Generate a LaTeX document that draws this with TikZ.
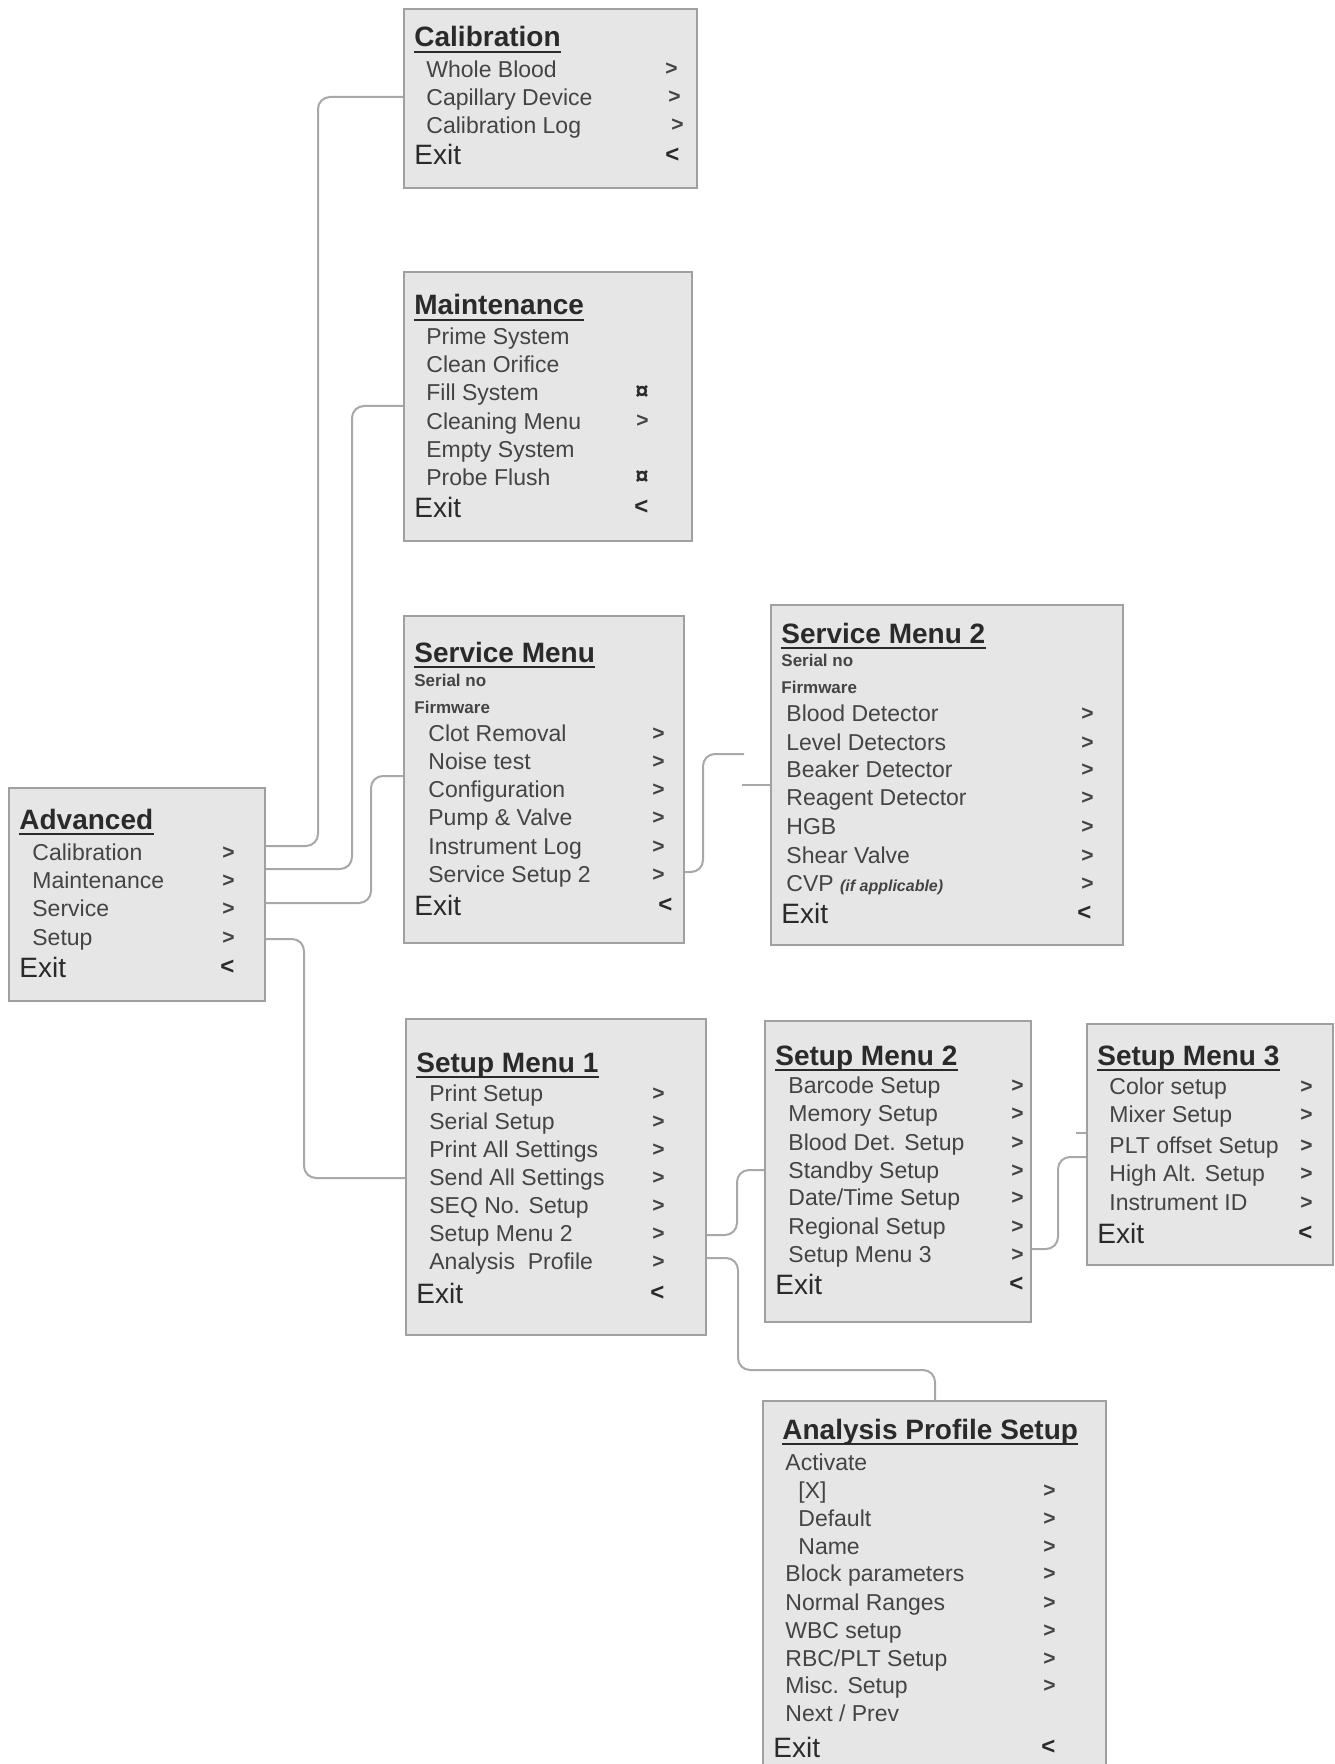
\documentclass[tikz,border=0pt]{standalone}
\usepackage{fontspec}
\setmainfont{Liberation Sans}
\usetikzlibrary{fit}
\definecolor{boxfill}{HTML}{E6E6E6}
\definecolor{boxline}{HTML}{A0A0A0}
\definecolor{connline}{HTML}{A8A8A8}
\definecolor{itemtext}{HTML}{444444}
\definecolor{titletext}{HTML}{2A2A2A}
\newcommand\titleline[1]{\draw[draw=titletext, line width=1.2pt] ([yshift=-2.6pt]#1.base west) -- ([yshift=-2.6pt]#1.base east);}
\begin{document}
\begin{tikzpicture}[x=0.5pt,y=-0.5pt,
  box/.style={draw=boxline, fill=boxfill, line width=1.1pt, inner sep=0pt},
  txt/.style={inner sep=0pt, anchor=west, text depth=0pt},
  item/.style={txt, text height=8.2pt, font=\fontsize{11.5}{12}\selectfont, text=itemtext},
  ttl/.style={txt, text height=10pt, font=\fontsize{14}{15}\selectfont\bfseries, text=titletext},
  exitt/.style={txt, text height=10pt, font=\fontsize{14}{15}\selectfont, text=titletext},
  smallt/.style={txt, text height=6.1pt, font=\fontsize{8.5}{9}\selectfont\bfseries, text=itemtext},
  arr/.style={txt, text height=7pt, font=\fontsize{10.5}{11}\selectfont\bfseries, text=itemtext},
  arrx/.style={txt, text height=7.5pt, font=\fontsize{12}{13}\selectfont\bfseries, text=titletext},
  conn/.style={draw=connline, line width=1pt, rounded corners=6pt},
]
\clip (0,0) rectangle (1334,1764);
\fill[white] (0,0) rectangle (1334,1764);

% ---------------- boxes
\coordinate (cal-nw) at (404,9);    \coordinate (cal-se) at (697,188);
\coordinate (mnt-nw) at (404,272);  \coordinate (mnt-se) at (692,541);
\coordinate (srv-nw) at (404,616);  \coordinate (srv-se) at (684,943);
\coordinate (sv2-nw) at (771,605);  \coordinate (sv2-se) at (1123,945);
\coordinate (adv-nw) at (9,788);    \coordinate (adv-se) at (265,1001);
\coordinate (su1-nw) at (406,1019); \coordinate (su1-se) at (706,1335);
\coordinate (su2-nw) at (765,1021); \coordinate (su2-se) at (1031,1322);
\coordinate (su3-nw) at (1087,1024);\coordinate (su3-se) at (1333,1265);
\coordinate (aps-nw) at (763,1401); \coordinate (aps-se) at (1106,1790);
\foreach \b in {cal,mnt,srv,sv2,adv,su1,su2,su3,aps}{
  \node[box, fit=(\b-nw)(\b-se)] (\b) {};
}

% ---------------- Calibration
\node[ttl] (cal-t) at (414,37) {Calibration}; \titleline{cal-t}
\node[item] (cal-1) at (426,69) {Whole Blood};      \node[arr] (cal-a1) at (665,69) {>};
\node[item] (cal-2) at (426,97) {Capillary Device}; \node[arr] (cal-a2) at (668,97) {>};
\node[item] (cal-3) at (426,125) {Calibration Log}; \node[arr] (cal-a3) at (671,125) {>};
\node[exitt] (cal-e) at (414,155) {Exit};           \node[arrx] (cal-ae) at (665,155) {<};

% ---------------- Maintenance
\node[ttl] (mnt-t) at (414,305) {Maintenance}; \titleline{mnt-t}
\node[item] (mnt-1) at (426,336) {Prime System};
\node[item] (mnt-2) at (426,364) {Clean Orifice};
\node[item] (mnt-3) at (426,392) {Fill System};   \node[arrx] (mnt-a3) at (635,392) {¤};
\node[item] (mnt-4) at (426,421) {Cleaning Menu}; \node[arr] (mnt-a4) at (636,421) {>};
\node[item] (mnt-5) at (426,449) {Empty System};
\node[item] (mnt-6) at (426,477) {Probe Flush};   \node[arrx] (mnt-a6) at (635,477) {¤};
\node[exitt] (mnt-e) at (414,507) {Exit};         \node[arrx] (mnt-ae) at (634,507) {<};

% ---------------- Service Menu
\node[ttl] (srv-t) at (414,652) {Service Menu}; \titleline{srv-t}
\node[smallt] (srv-s) at (414,680) {Serial no};
\node[smallt] (srv-f) at (414,707) {Firmware};
\node[item] (srv-1) at (428,733) {Clot Removal};    \node[arr] (srv-a1) at (652,733) {>};
\node[item] (srv-2) at (428,761) {Noise test};      \node[arr] (srv-a2) at (652,761) {>};
\node[item] (srv-3) at (428,789) {Configuration};   \node[arr] (srv-a3) at (652,789) {>};
\node[item] (srv-4) at (428,817) {Pump \& Valve};   \node[arr] (srv-a4) at (652,817) {>};
\node[item] (srv-5) at (428,846) {Instrument Log};  \node[arr] (srv-a5) at (652,846) {>};
\node[item] (srv-6) at (428,874) {Service Setup 2}; \node[arr] (srv-a6) at (652,874) {>};
\node[exitt] (srv-e) at (414,905) {Exit};           \node[arrx] (srv-ae) at (658,905) {<};

% ---------------- Service Menu 2
\node[ttl] (sv2-t) at (781,633) {Service Menu 2}; \titleline{sv2-t}
\node[smallt] (sv2-s) at (781,660) {Serial no};
\node[smallt] (sv2-f) at (781,687) {Firmware};
\node[item] (sv2-1) at (786,713) {Blood Detector};   \node[arr] (sv2-a1) at (1081,713) {>};
\node[item] (sv2-2) at (786,742) {Level Detectors};  \node[arr] (sv2-a2) at (1081,742) {>};
\node[item] (sv2-3) at (786,769) {Beaker Detector};  \node[arr] (sv2-a3) at (1081,769) {>};
\node[item] (sv2-4) at (786,797) {Reagent Detector}; \node[arr] (sv2-a4) at (1081,797) {>};
\node[item] (sv2-5) at (786,826) {HGB};              \node[arr] (sv2-a5) at (1081,826) {>};
\node[item] (sv2-6) at (786,855) {Shear Valve};      \node[arr] (sv2-a6) at (1081,855) {>};
\node[item] (sv2-7) at (786,883) {CVP {\fontsize{8}{9}\selectfont\bfseries\itshape (if applicable)}}; \node[arr] (sv2-a7) at (1081,883) {>};
\node[exitt] (sv2-e) at (781,913) {Exit};            \node[arrx] (sv2-ae) at (1077,913) {<};

% ---------------- Advanced
\node[ttl] (adv-t) at (19,819) {Advanced}; \titleline{adv-t}
\node[item] (adv-1) at (32,852) {Calibration}; \node[arr] (adv-a1) at (222,852) {>};
\node[item] (adv-2) at (32,880) {Maintenance}; \node[arr] (adv-a2) at (222,880) {>};
\node[item] (adv-3) at (32,908) {Service};     \node[arr] (adv-a3) at (222,908) {>};
\node[item] (adv-4) at (32,937) {Setup};       \node[arr] (adv-a4) at (222,937) {>};
\node[exitt] (adv-e) at (19,967) {Exit};       \node[arrx] (adv-ae) at (220,967) {<};

% ---------------- Setup Menu 1
\node[ttl] (su1-t) at (416,1062) {Setup Menu 1}; \titleline{su1-t}
\node[item] (su1-1) at (429,1093) {Print Setup};        \node[arr] (su1-a1) at (652,1093) {>};
\node[item] (su1-2) at (429,1121) {Serial Setup};       \node[arr] (su1-a2) at (652,1121) {>};
\node[item] (su1-3) at (429,1149) {Print All Settings}; \node[arr] (su1-a3) at (652,1149) {>};
\node[item] (su1-4) at (429,1177) {Send All Settings};  \node[arr] (su1-a4) at (652,1177) {>};
\node[item] (su1-5) at (429,1205) {SEQ No. Setup};      \node[arr] (su1-a5) at (652,1205) {>};
\node[item] (su1-6) at (429,1233) {Setup Menu 2};       \node[arr] (su1-a6) at (652,1233) {>};
\node[item] (su1-7) at (429,1261) {Analysis\ \ Profile};\node[arr] (su1-a7) at (652,1261) {>};
\node[exitt] (su1-e) at (416,1293) {Exit};              \node[arrx] (su1-ae) at (650,1293) {<};

% ---------------- Setup Menu 2
\node[ttl] (su2-t) at (775,1055) {Setup Menu 2}; \titleline{su2-t}
\node[item] (su2-1) at (788,1085) {Barcode Setup};    \node[arr] (su2-a1) at (1011,1085) {>};
\node[item] (su2-2) at (788,1113) {Memory Setup};     \node[arr] (su2-a2) at (1011,1113) {>};
\node[item] (su2-3) at (788,1142) {Blood Det. Setup}; \node[arr] (su2-a3) at (1011,1142) {>};
\node[item] (su2-4) at (788,1170) {Standby Setup};    \node[arr] (su2-a4) at (1011,1170) {>};
\node[item] (su2-5) at (788,1197) {Date/Time Setup};  \node[arr] (su2-a5) at (1011,1197) {>};
\node[item] (su2-6) at (788,1226) {Regional Setup};   \node[arr] (su2-a6) at (1011,1226) {>};
\node[item] (su2-7) at (788,1254) {Setup Menu 3};     \node[arr] (su2-a7) at (1011,1254) {>};
\node[exitt] (su2-e) at (775,1284) {Exit};            \node[arrx] (su2-ae) at (1009,1284) {<};

% ---------------- Setup Menu 3
\node[ttl] (su3-t) at (1097,1055) {Setup Menu 3}; \titleline{su3-t}
\node[item] (su3-1) at (1109,1086) {Color setup};      \node[arr] (su3-a1) at (1300,1086) {>};
\node[item] (su3-2) at (1109,1114) {Mixer Setup};      \node[arr] (su3-a2) at (1300,1114) {>};
\node[item] (su3-3) at (1109,1145) {PLT offset Setup}; \node[arr] (su3-a3) at (1300,1145) {>};
\node[item] (su3-4) at (1109,1173) {High Alt. Setup};  \node[arr] (su3-a4) at (1300,1173) {>};
\node[item] (su3-5) at (1109,1202) {Instrument ID};    \node[arr] (su3-a5) at (1300,1202) {>};
\node[exitt] (su3-e) at (1097,1233) {Exit};            \node[arrx] (su3-ae) at (1298,1233) {<};

% ---------------- Analysis Profile Setup
\node[ttl] (aps-t) at (782,1429) {Analysis Profile Setup}; \titleline{aps-t}
\node[item] (aps-1) at (785,1462) {Activate};
\node[item] (aps-2) at (798,1490) {[X]};              \node[arr] (aps-a2) at (1043,1490) {>};
\node[item] (aps-3) at (798,1518) {Default};          \node[arr] (aps-a3) at (1043,1518) {>};
\node[item] (aps-4) at (798,1546) {Name};             \node[arr] (aps-a4) at (1043,1546) {>};
\node[item] (aps-5) at (785,1573) {Block parameters}; \node[arr] (aps-a5) at (1043,1573) {>};
\node[item] (aps-6) at (785,1602) {Normal Ranges};    \node[arr] (aps-a6) at (1043,1602) {>};
\node[item] (aps-7) at (785,1630) {WBC setup};        \node[arr] (aps-a7) at (1043,1630) {>};
\node[item] (aps-8) at (785,1658) {RBC/PLT Setup};    \node[arr] (aps-a8) at (1043,1658) {>};
\node[item] (aps-9) at (785,1685) {Misc. Setup};      \node[arr] (aps-a9) at (1043,1685) {>};
\node[item] (aps-10) at (785,1713) {Next / Prev};
\node[exitt] (aps-e) at (773,1747) {Exit};            \node[arrx] (aps-ae) at (1041,1747) {<};

% ---------------- connectors
\coordinate (j1) at (318,846);  \coordinate (k1) at (0,97);
\coordinate (j2) at (352,869);  \coordinate (k2) at (0,406);
\coordinate (j3) at (371,903);  \coordinate (k3) at (0,776);
\coordinate (j4) at (304,939);  \coordinate (k4) at (0,1178);
\draw[conn] (adv.east |- j1) -- (j1) |- (cal.west |- k1);
\draw[conn] (adv.east |- j2) -- (j2) |- (mnt.west |- k2);
\draw[conn] (adv.east |- j3) -- (j3) |- (srv.west |- k3);
\draw[conn] (adv.east |- j4) -- (j4) |- (su1.west |- k4);

\coordinate (j5) at (703,872); \coordinate (e5) at (744,754);
\coordinate (e6) at (742,785);
\draw[conn] (srv.east |- j5) -- (j5) |- (e5);
\draw[conn] (e6) -- (sv2.west |- e6);

\coordinate (j7) at (737,1235); \coordinate (k7) at (0,1170);
\draw[conn] (su1.east |- j7) -- (j7) |- (su2.west |- k7);

\coordinate (j8) at (1058,1249); \coordinate (k8) at (0,1157);
\coordinate (e9) at (1076,1133);
\draw[conn] (su2.east |- j8) -- (j8) |- (su3.west |- k8);
\draw[conn] (e9) -- (su3.west |- e9);

\coordinate (j10) at (738,1258); \coordinate (j11) at (935,1370);
\draw[conn] (su1.east |- j10) -- (j10) |- (j11) -- (aps.north -| j11);
\end{tikzpicture}
\end{document}
